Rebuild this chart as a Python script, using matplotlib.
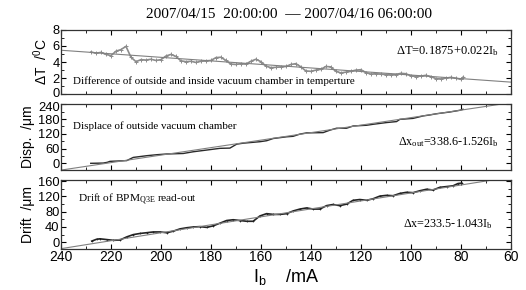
import numpy as np
import matplotlib
matplotlib.use('Agg')
import matplotlib.pyplot as plt
import matplotlib.transforms as mtransforms
from matplotlib.ticker import MultipleLocator

# temperature difference (I_b in mA)
dt_ib = [228, 226, 224, 222, 220, 218, 216, 214, 212, 210, 208, 206, 204, 202, 200,
         198, 196, 194, 192, 190, 188, 186, 184, 182, 180, 178, 176, 174, 172, 170,
         168, 166, 164, 162, 160, 158, 156, 154, 152, 150, 148, 146, 144, 142, 140,
         138, 136, 134, 132, 130, 128, 126, 124, 122, 120, 118, 116, 114, 112, 110,
         108, 106, 104, 102, 100, 98, 96, 94, 92, 90, 88, 86, 84, 82, 80, 79]
dt_val = [5.25, 5.10, 5.20, 4.95, 4.80, 5.35, 5.55, 5.95, 4.60, 4.05, 4.30, 4.25, 4.35, 4.20, 4.30,
          4.75, 4.95, 4.70, 4.15, 4.05, 4.10, 3.95, 4.10, 4.15, 4.20, 4.55, 4.60, 4.20, 3.75, 3.70,
          3.80, 3.75, 4.10, 4.35, 4.05, 3.50, 3.30, 3.35, 3.40, 3.45, 3.70, 3.80, 3.40, 2.90, 2.85,
          3.00, 3.10, 3.45, 3.40, 2.85, 2.65, 2.75, 2.85, 3.00, 3.05, 2.70, 2.50, 2.55, 2.50, 2.45,
          2.40, 2.45, 2.60, 2.55, 2.30, 2.20, 2.25, 2.35, 2.20, 1.95, 1.90, 2.00, 2.10, 2.00, 1.85, 2.15]

# displacement of outside vacuum chamber (um)
disp_ib = [228.1, 223.1, 221.5, 220.4, 213.7, 211.1, 205.7, 201.7, 197.7, 191.1, 187.1, 181.7,
           176.4, 172.4, 169.7, 167.1, 160.4, 157.7, 155.1, 149.7, 147.1, 144.4, 141.7, 135.1,
           132.4, 129.7, 125.7, 123.1, 117.7, 115.1, 109.7, 105.7, 104.4, 99.1, 95.1, 92.4,
           89.7, 84.4, 80.4, 79.1]
disp_val = [0, 1, 4, 8, 11, 24, 31, 35, 38, 40, 47, 54,
            61, 62, 78, 82, 88, 92, 101, 108, 110, 119, 124, 125,
            135, 143, 143, 152, 155, 159, 166, 170, 179, 183, 193, 197,
            202, 209, 216, 220]

# drift of BPM read-out (um)
drift_ib = [227.7, 225.7, 224.4, 221.7, 219.0, 216.4, 213.7, 211.1, 208.4, 205.7, 203.1, 200.4,
            197.7, 195.1, 192.4, 189.7, 187.1, 184.4, 181.7, 179.1, 176.4, 173.7, 171.1, 168.4,
            165.7, 163.1, 160.4, 157.7, 155.1, 152.4, 149.7, 147.1, 144.4, 141.7, 139.1, 136.4,
            133.7, 131.1, 128.4, 125.7, 123.1, 120.4, 117.7, 115.1, 112.4, 109.7, 107.1, 104.4,
            101.7, 99.1, 96.4, 93.7, 91.1, 88.4, 85.7, 83.1, 81.1, 79.7]
drift_val = [3, 8, 9, 7, 5, 6, 14, 20, 23, 25, 27, 27,
             25, 29, 35, 38, 40, 41, 39, 43, 50, 57, 59, 57,
             55, 55, 69, 75, 73, 73, 75, 82, 87, 90, 87, 87,
             96, 99, 96, 100, 110, 112, 110, 114, 121, 123, 122, 128,
             131, 130, 135, 139, 137, 144, 146, 148, 154, 155]

fit_ib = np.array([240, 60])

serif = 'Liberation Serif'
sans = 'Liberation Sans'
plt.rcParams['font.family'] = sans
plt.rcParams['mathtext.default'] = 'regular'

fig = plt.figure(figsize=(5.26, 2.90), dpi=100)
left, width = 0.116, 0.855
ax1 = fig.add_axes([left, 0.675, width, 0.222])
ax2 = fig.add_axes([left, 0.414, width, 0.226])
ax3 = fig.add_axes([left, 0.141, width, 0.238])

ax1.plot(dt_ib, dt_val, color='#8c8c8c', lw=1.2)
ax1.plot(dt_ib, dt_val, '+', color='#8c8c8c', ms=3, mew=0.7)
ax1.plot(fit_ib, 0.1875 + 0.022 * fit_ib, color='#808080', lw=0.8)
ax1.set_ylim(0, 8)
ax1.yaxis.set_major_locator(MultipleLocator(2))
ax1.yaxis.set_minor_locator(MultipleLocator(1))
ax1.set_ylabel('ΔT  /$^0$C', fontsize=10, labelpad=2)
ax1.text(0.027, 0.16, 'Difference of outside and inside vacuum chamber in temperture',
         transform=ax1.transAxes, family=serif, fontsize=7.9)
ax1.text(0.745, 0.62, 'ΔT=0.1875+0.022I$_b$', transform=ax1.transAxes,
         family=serif, fontsize=9)

ax2.plot(disp_ib, disp_val, color='#2a2a2a', lw=1.0)
ax2.plot(fit_ib, 338.6 - 1.526 * fit_ib, color='#808080', lw=0.8)
ax2.set_ylim(-27, 240)
ax2.yaxis.set_major_locator(MultipleLocator(60))
ax2.yaxis.set_minor_locator(MultipleLocator(30))
ax2.set_ylabel('Disp.  /μm', fontsize=10, labelpad=2)
ax2.text(0.027, 0.62, 'Displace of outside vacuum chamber', transform=ax2.transAxes,
         family=serif, fontsize=7.9)
ax2.text(0.75, 0.38, 'Δx$_{out}$=338.6-1.526I$_b$', transform=ax2.transAxes,
         family=serif, fontsize=8.7)

ax3.plot(drift_ib, drift_val, color='#222222', lw=1.2)
ax3.plot(drift_ib, drift_val, '+', color='#222222', ms=1.8, mew=0.5)
ax3.plot(fit_ib, 233.5 - 1.043 * fit_ib, color='#808080', lw=0.8)
ax3.set_ylim(-18, 163)
ax3.yaxis.set_major_locator(MultipleLocator(40))
ax3.yaxis.set_minor_locator(MultipleLocator(20))
ax3.set_ylabel('Drift  /μm', fontsize=10, labelpad=2)
ax3.text(0.038, 0.68, 'Drift of BPM$_{Q3E}$ read-out', transform=ax3.transAxes,
         family=serif, fontsize=8.2)
ax3.text(0.76, 0.32, 'Δx=233.5-1.043I$_b$', transform=ax3.transAxes,
         family=serif, fontsize=8.7)
ax3.set_xlabel('I$_b$    /mA', fontsize=13, labelpad=2)

for ax in (ax1, ax2, ax3):
    ax.set_xlim(240, 60)
    ax.xaxis.set_major_locator(MultipleLocator(20))
    ax.xaxis.set_minor_locator(MultipleLocator(10))
    ax.tick_params(which='both', direction='in', top=True, right=True, labelsize=10, pad=1)
    ax.tick_params(axis='y', labelsize=9.3)
    ax.tick_params(which='major', length=3.5)
    ax.tick_params(which='minor', length=2)
    for s in ax.spines.values():
        s.set_linewidth(0.9)
        s.set_color('#333333')
    if ax is not ax3:
        ax.tick_params(labelbottom=False)

# nudge the touching end labels between panel 1 and 2 apart a little
fig.canvas.draw()
up = mtransforms.ScaledTranslation(0, 2.2 / 100, fig.dpi_scale_trans)
down = mtransforms.ScaledTranslation(0, -2.2 / 100, fig.dpi_scale_trans)
for lab in ax1.get_yticklabels():
    if lab.get_text() == '0':
        lab.set_transform(lab.get_transform() + up)
for lab in ax2.get_yticklabels():
    if lab.get_text() == '240':
        lab.set_transform(lab.get_transform() + down)

fig.text(0.55, 0.95, '2007/04/15  20:00:00  \u2014 2007/04/16 06:00:00', ha='center',
         va='center', family=serif, fontsize=11)

fig.savefig('out.png', dpi=100)
